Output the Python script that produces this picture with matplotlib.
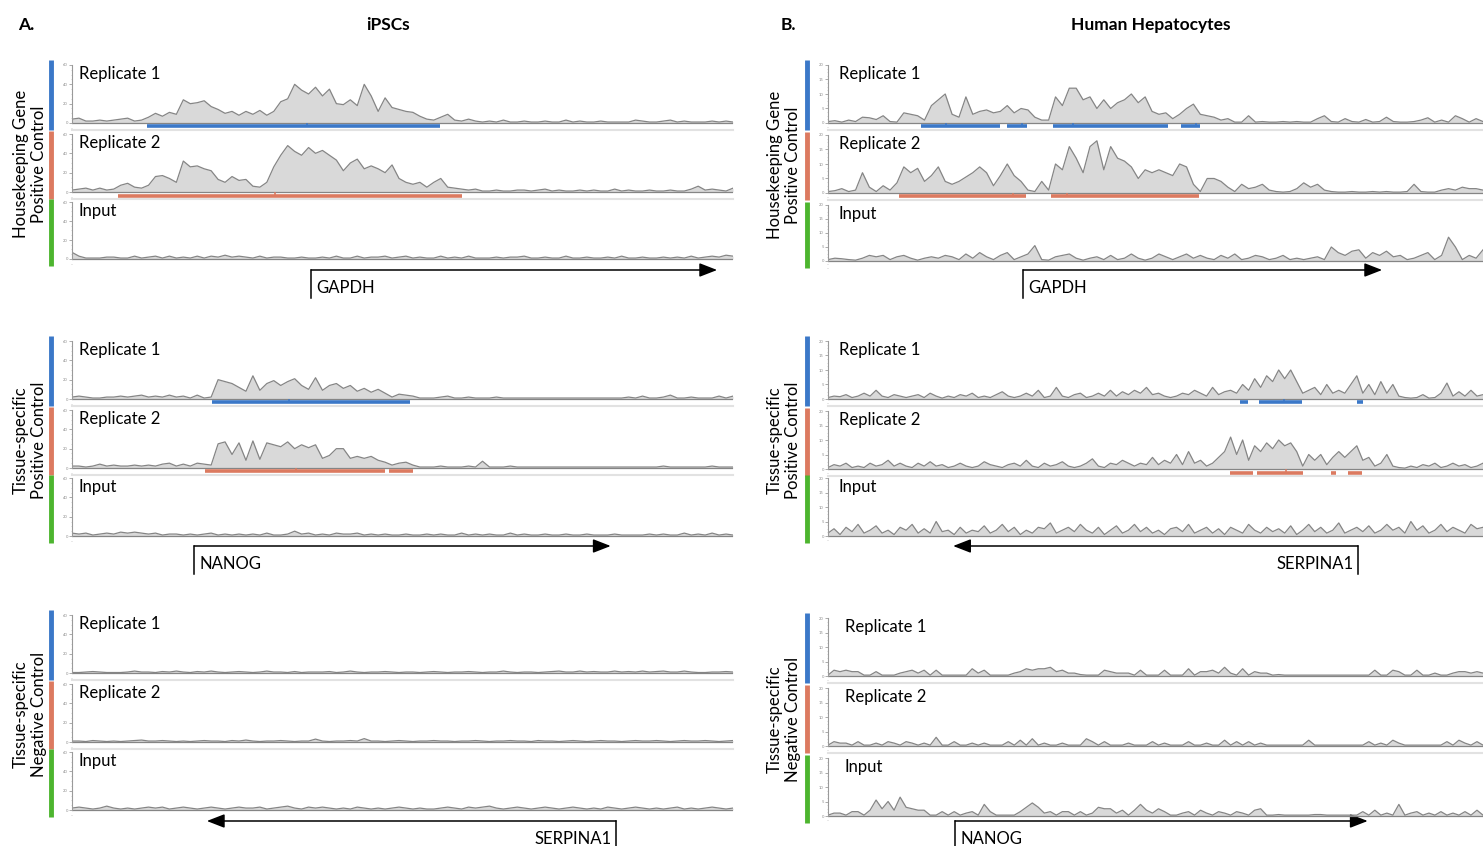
import numpy as np
import matplotlib
matplotlib.use("Agg")
import matplotlib.pyplot as plt
from matplotlib.ticker import AutoMinorLocator

plt.rcParams['font.family'] = ['Lato', 'DejaVu Sans']

W, H = 1483, 846
FILL = "#d9d9d9"
LINE = "#858585"
BLUE = "#3b78c8"
RED = "#dc7a60"
GREEN = "#4db52f"

# ---- signal tracks (coverage values) ----
# iPSCs, GAPDH locus (0-60 scale)
ipsc_gapdh_rep1 = [4, 5, 2, 2, 3, 2, 3, 4, 5, 2, 3, 6, 10, 7, 11, 9, 24, 20, 21, 23,
                   17, 14, 10, 12, 8, 12, 9, 13, 8, 12, 22, 25, 40, 34, 30, 37, 28, 35, 20, 19,
                   24, 18, 40, 28, 12, 26, 16, 14, 12, 11, 7, 4, 3, 6, 9, 3, 2, 4,
                   2, 1, 2, 1, 3, 1, 1, 2, 1, 1, 2, 1, 1, 3, 1, 2, 1, 1, 2, 1,
                   1, 1, 1, 3, 2, 1, 1, 2, 3, 1, 2, 1, 1, 1, 2, 1, 2, 1]
ipsc_gapdh_rep2 = [2, 3, 4, 2, 4, 2, 3, 7, 9, 5, 4, 7, 16, 17, 14, 10, 32, 26, 27, 24,
                   22, 13, 10, 16, 12, 13, 6, 5, 10, 26, 38, 48, 42, 38, 46, 40, 43, 38, 33, 22,
                   30, 34, 24, 27, 24, 20, 28, 14, 10, 8, 10, 5, 10, 14, 5, 4, 3, 2,
                   3, 1, 1, 2, 1, 1, 2, 2, 1, 2, 3, 1, 2, 1, 1, 2, 1, 2, 1, 1,
                   3, 1, 2, 1, 1, 2, 1, 1, 2, 1, 1, 3, 6, 2, 3, 2, 1, 4]
ipsc_gapdh_input = [7, 3, 1, 1, 1, 2, 2, 1, 1, 3, 1, 2, 3, 1, 3, 1, 2, 1, 3, 1,
                    3, 2, 4, 2, 3, 2, 1, 3, 1, 2, 2, 1, 1, 2, 1, 1, 2, 1, 3, 1,
                    1, 3, 1, 2, 2, 3, 1, 2, 3, 1, 2, 1, 1, 3, 1, 2, 1, 3, 1, 1,
                    1, 2, 1, 2, 2, 3, 1, 1, 2, 1, 1, 3, 1, 1, 2, 1, 1, 2, 1, 3,
                    1, 1, 2, 1, 1, 2, 1, 2, 1, 3, 1, 2, 3, 2, 4, 3]

# iPSCs, NANOG locus
ipsc_nanog_rep1 = [2, 3, 2, 1, 1, 2, 2, 3, 2, 3, 4, 2, 3, 2, 4, 2, 3, 1, 4, 1,
                   2, 20, 18, 16, 12, 8, 24, 9, 16, 19, 14, 18, 21, 14, 10, 22, 9, 14, 16, 11,
                   14, 8, 11, 7, 10, 6, 2, 5, 4, 3,
                   1, 1, 1, 2, 3, 1, 1, 2, 1, 1, 1, 2, 1, 1, 1, 1, 1, 1, 1, 1,
                   1, 1, 1, 1, 1, 1, 1, 1, 1, 1, 2, 1, 3, 1, 1, 2, 4, 1, 1, 2,
                   1, 1, 1, 3, 1, 3]
ipsc_nanog_rep2 = [2, 2, 1, 2, 4, 2, 3, 2, 2, 3, 2, 3, 2, 4, 5, 2, 4, 2, 5, 4,
                   3, 25, 27, 14, 26, 8, 28, 9, 26, 24, 22, 27, 20, 24, 21, 24, 10, 13, 20, 20,
                   10, 12, 10, 12, 8, 6, 3, 5, 6, 3,
                   1, 1, 1, 2, 1, 1, 1, 2, 1, 7, 1, 1, 1, 2, 1, 1, 1, 1, 1, 1,
                   1, 1, 1, 1, 1, 1, 1, 1, 1, 1, 1, 1, 1, 1, 1, 2, 1, 1, 1, 1,
                   1, 1, 2, 1, 1, 1]
ipsc_nanog_input = [3, 2, 3, 1, 2, 3, 2, 4, 3, 4, 3, 2, 3, 1, 2, 2, 1, 2, 1, 2,
                    3, 1, 2, 1, 2, 1, 2, 1, 3, 1, 1, 2, 5, 2, 3, 1, 2, 1, 3, 2,
                    2, 3, 1, 2, 1, 2, 1, 1, 2, 1, 1, 2, 1, 2, 1, 1, 3, 1, 2, 1,
                    2, 1, 1, 3, 1, 2, 1, 1, 2, 1, 1, 2, 1, 1, 2, 1, 1, 1, 2, 1,
                    1, 1, 1, 2, 1, 2, 1, 1, 3, 1, 2, 1, 3, 1, 2, 1]

# iPSCs, SERPINA1 locus
ipsc_serp_rep1 = [0.5, 0.5, 1, 1.5, 1, 0.5, 0.5, 0.5, 1, 2, 1, 1, 0.5, 1.5, 1, 2, 1, 0.5, 1.5, 1,
                  2, 1, 0.5, 1, 1.5, 1, 0.5, 1, 2, 1, 1, 0.5, 1.5, 0.5, 1, 1, 1, 1.5, 0.5, 1,
                  2, 1, 0.5, 1, 1, 1.5, 1, 0.5, 1, 1, 0.5, 1, 1.5, 1, 0.5, 1, 1, 1.5, 1, 0.5,
                  1, 1, 2, 1, 0.5, 1, 1, 0.5, 1, 1.5, 2, 1, 1, 2, 1, 1.5, 1, 1, 2, 1,
                  1.5, 1, 2, 1, 1.5, 2, 1, 1, 2, 1, 0.5, 0.5, 1, 1, 1.5, 1]
ipsc_serp_rep2 = [1, 1, 0.5, 1.5, 1, 0.5, 1, 0.5, 1, 1.5, 2, 1, 1, 1.5, 1, 0.5, 1, 0.5, 1, 1.5,
                  1, 1, 0.5, 1.5, 1, 2, 1, 0.5, 1, 1, 1.5, 1, 0.5, 1, 1, 3, 1, 0.5, 1, 1,
                  1.5, 1, 3.5, 1, 1, 0.5, 1, 1.5, 1, 0.5, 1, 1, 1.5, 1, 1, 0.5, 1, 1, 1.5, 1,
                  0.5, 1, 1, 1.5, 1, 1, 0.5, 1.5, 1, 1, 0.5, 1, 1.5, 1, 0.5, 1, 1.5, 1, 1, 0.5,
                  1, 1.5, 1, 1, 1.5, 1, 0.5, 1, 1.5, 1, 1, 1.5, 1, 0.5, 1, 1.5]
ipsc_serp_input = [2, 3, 2, 1, 2, 4, 2, 1, 2, 1, 2, 3, 2, 3, 1, 2, 3, 2, 1, 2,
                   3, 2, 1, 2, 3, 2, 2, 3, 1, 2, 3, 4, 2, 1, 3, 2, 3, 2, 1, 2,
                   1, 3, 2, 1, 2, 1, 2, 3, 2, 1, 2, 1, 1, 2, 3, 2, 1, 3, 2, 3,
                   4, 2, 1, 2, 3, 2, 1, 2, 3, 2, 1, 2, 3, 2, 1, 2, 1, 3, 2, 1,
                   2, 3, 2, 1, 2, 1, 2, 3, 1, 2, 1, 2, 3, 2, 1, 2]

# Hepatocytes, GAPDH locus (0-20 scale)
hep_gapdh_rep1 = [0.5, 0.8, 0.3, 1, 0.5, 2, 1.8, 1.2, 2.5, 0.5, 0.3, 3.5, 3, 2.5, 1, 6, 8, 10, 3, 2,
                  9, 3, 4, 4.5, 3.5, 4, 6, 3.5, 5, 4.5, 2, 1, 1, 9, 6, 12, 12, 8, 9, 5,
                  8, 5, 7, 8, 10, 7, 9, 4, 3, 3.5, 1.5, 3, 5, 6.5, 3, 2.5, 2, 1, 1.5, 0.3,
                  0.3, 2.5, 0.3, 0.5, 0.3, 0.3, 0.5, 0.3, 0.5, 0.3, 0.3, 1.5, 2.5, 0.5, 0.3, 1.5, 0.5, 0.3, 1.2, 0.3,
                  0.5, 2, 0.5, 0.3, 0.3, 0.5, 1, 1.8, 0.3, 1, 0.3, 2.5, 1.5, 0.3, 1.5, 0.5]
hep_gapdh_rep2 = [0.5, 0.8, 1.5, 0.5, 1, 7, 2, 0.5, 2.5, 1, 3.5, 9, 7, 8.5, 4, 6, 9, 4, 3, 4,
                  5.5, 7, 9, 7, 2.5, 6, 10, 6, 4, 1, 0.5, 4, 1, 10, 8, 16, 12, 7, 16, 18,
                  8, 16, 12, 11, 9, 5, 8, 7, 8, 7, 6, 10, 9, 3, 0.5, 5, 5, 4, 2, 0.5,
                  3, 1.5, 2, 3, 1, 0.5, 0.3, 0.5, 1.5, 3.5, 2, 3, 1, 0.5, 0.3, 0.3, 0.5, 0.3, 0.3, 0.5,
                  0.3, 0.5, 0.3, 0.3, 0.5, 3, 0.5, 0.3, 0.3, 1, 1.5, 1, 2, 1.5, 1.5, 1]
hep_gapdh_input = [0.5, 1, 0.8, 0.5, 0.3, 1, 2, 1.5, 2, 0.5, 1.5, 2, 1, 0.3, 1, 1.5, 1, 2, 1.5, 0.5,
                   2.5, 1, 3, 1.5, 0.5, 2, 3, 0.5, 1.5, 2.5, 5.5, 0.5, 0.3, 1.5, 2, 2.5, 1, 0.3, 1, 1.5,
                   0.5, 2, 0.5, 1, 2.5, 1, 0.3, 1, 2.5, 1.5, 0.5, 1.5, 2.5, 1, 2, 1, 0.5, 2, 1, 2.5,
                   0.5, 1, 2, 1.5, 0.5, 1, 2, 0.5, 1, 0.5, 1, 1.5, 0.5, 5, 3, 2, 3.5, 4, 1, 3,
                   2, 3.5, 1.5, 2, 0.5, 1, 2, 3, 0.5, 2, 8.5, 5, 0.5, 2, 1, 4]

# Hepatocytes, SERPINA1 locus
hep_serp_rep1 = [0.5, 1, 0.8, 1.5, 0.5, 1, 2, 1, 3, 1, 0.5, 1.5, 1, 0.5, 1, 1.5, 0.5, 2, 1, 0.3,
                 1, 0.5, 1.5, 1, 2, 0.5, 1, 0.5, 1.5, 2.5, 1, 0.5, 1, 2, 1, 3, 0.5, 1, 4, 1,
                 0.5, 1.5, 2, 0.5, 1, 2, 1, 3, 1, 2.5, 1.5, 3, 2, 4, 1.5, 2, 1, 0.5, 1, 2,
                 1.5, 3, 2, 1, 4, 1.5, 2.5, 3, 2, 5, 3, 7, 4, 8, 6, 10, 7, 10, 6, 2,
                 3, 4, 1.5, 5, 2, 3, 2, 5, 8, 2, 5, 1.5, 6, 2, 5, 1, 0.5, 0.3, 0.5, 1.5,
                 0.3, 0.5, 2, 5.5, 1, 2.5, 1, 3, 1, 1.5]
hep_serp_rep2 = [0.5, 1.5, 1, 2, 0.5, 1, 0.5, 2, 1, 1.5, 3, 1, 2, 1, 0.5, 2, 1, 2.5, 1, 1.5,
                 0.5, 1, 2, 1, 0.5, 1, 2.5, 1.5, 1, 0.5, 1.5, 2, 1, 3, 1, 0.5, 2, 1, 1.5, 2.5,
                 1, 0.5, 1, 2, 3.5, 1, 0.5, 2, 1.5, 3, 2, 1, 2, 1.5, 4, 1.5, 3, 2, 5, 1.5,
                 6, 2, 3, 1, 2, 4, 6, 11, 5, 10, 3, 8, 6, 9, 7, 10, 8, 9, 6, 1,
                 5, 3, 5, 1.5, 4, 6, 4, 6, 8, 3, 4, 1, 2, 5, 1, 0.5, 0.3, 1, 0.5, 1.5,
                 1, 2, 0.5, 1, 2, 1, 1.5, 0.5, 1, 2]
hep_serp_input = [1, 2.5, 0.5, 3, 1.5, 4, 1, 2, 3.5, 1, 2, 0.5, 3, 2, 4, 1, 2.5, 1, 5, 1.5,
                  2, 0.5, 3, 1, 2, 1.5, 3.5, 1, 2, 4, 1.5, 3, 0.5, 2, 1, 3, 2.5, 4.5, 1, 2,
                  3, 1.5, 4, 2, 1, 3, 0.5, 2, 3.5, 1, 2, 4, 1.5, 3, 1, 2, 0.5, 2.5, 3, 1.5,
                  4, 1, 2, 3, 1, 2.5, 0.5, 3, 2, 1, 4, 2, 1, 3, 1.5, 2.5, 1, 3.5, 0.5, 2,
                  4, 1.5, 3, 1, 2, 4.5, 1, 2, 3, 1.5, 3.5, 1, 2, 4, 2, 3, 1, 5, 2, 3.5,
                  1, 2, 4, 1.5, 3, 2, 1, 4, 2.5, 3]

# Hepatocytes, NANOG locus
hep_nanog_rep1 = [0.3, 2, 1.5, 2, 1.5, 1.5, 0.3, 0.3, 1.5, 0.3, 0.3, 0.3, 1, 1.5, 2, 1, 2, 0.3, 2, 0.3,
                  0.3, 0.3, 0.3, 0.3, 2.5, 1, 2, 0.3, 0.3, 0.3, 0.3, 1, 1.5, 2.5, 2, 2.5, 2.5, 3, 1.5, 2,
                  1, 1, 0.5, 0.3, 0.3, 0.3, 2, 1.5, 1, 1, 1, 0.3, 2, 0.3, 0.3, 0.3, 2, 0.3, 0.3, 0.3,
                  2.5, 0.3, 1.5, 1.5, 2, 1, 3, 1, 0.3, 2.5, 0.3, 1.5, 1, 1, 0.3, 0.5, 0.3, 0.3, 0.3, 0.3,
                  0.3, 0.3, 0.3, 0.3, 0.3, 0.3, 0.3, 0.3, 0.3, 0.3, 0.3, 2, 0.3, 0.3, 2, 1.5, 0.3, 0.3, 2, 0.3,
                  0.3, 1, 0.3, 0.3, 1, 1.5, 1.5, 1, 1.5, 1]
hep_nanog_rep2 = [0.3, 1.5, 1, 1, 0.3, 1.5, 0.3, 0.3, 1, 0.3, 1.5, 1, 0.3, 1.5, 1, 0.3, 1, 0.3, 3, 0.3,
                  0.3, 1.5, 0.3, 0.3, 1, 0.3, 1, 0.3, 0.3, 0.3, 1.5, 0.3, 2, 0.3, 2.5, 0.3, 1, 0.3, 0.3, 1,
                  0.3, 0.3, 0.3, 2.5, 1.5, 0.3, 1.5, 0.3, 0.3, 0.3, 1, 0.3, 0.3, 0.3, 1.5, 0.3, 1, 0.3, 0.3, 0.3,
                  1.5, 0.3, 0.3, 1, 0.3, 0.3, 2, 0.3, 1.5, 0.3, 1.5, 0.3, 1, 0.3, 0.3, 0.3, 0.3, 0.3, 0.3, 0.3,
                  2, 0.3, 0.3, 0.3, 0.3, 0.3, 0.3, 0.3, 0.3, 0.3, 1.5, 0.3, 1, 0.3, 2, 1, 0.3, 0.3, 0.3, 0.3,
                  0.3, 0.3, 0.3, 1.5, 0.3, 2, 1, 0.3, 1.5, 0.3]
hep_nanog_input = [0.3, 1, 1, 0.3, 1.5, 1.5, 0.3, 2, 5.5, 2.5, 5, 2, 6.5, 3, 2.5, 2, 2, 0.3, 0.3, 1.5,
                   0.3, 1.5, 0.3, 1, 1.5, 0.3, 4, 1.5, 0.3, 0.3, 0.3, 0.3, 1.5, 3, 4.5, 3, 1, 1.5, 0.3, 1.5,
                   1.5, 0.3, 1.5, 0.3, 1, 3, 2.5, 2.5, 1, 2, 0.3, 2, 4, 2, 1, 2.5, 1.5, 0.3, 0.3, 1,
                   1.5, 0.3, 2, 1, 0.3, 1.5, 1, 0.3, 1.5, 1, 0.3, 2, 2.5, 0.3, 0.3, 0.5, 0.3, 0.3, 0.3, 0.3,
                   0.3, 0.5, 0.5, 0.3, 0.3, 0.3, 0.3, 0.3, 0.3, 1.5, 0.3, 2, 0.3, 1, 0.3, 4, 0.3, 1, 1.5, 0.3,
                   1, 0.3, 1.5, 0.3, 1, 0.3, 1.5, 0.3, 2, 0.3]

# called peaks (fraction of locus window) and summits
ipsc_gapdh_peaks1 = [(0.113, 0.557)]
ipsc_gapdh_summit1 = [0.356]
ipsc_gapdh_peaks2 = [(0.070, 0.590)]
ipsc_gapdh_summit2 = [0.307]
ipsc_nanog_peaks1 = [(0.212, 0.511)]
ipsc_nanog_summit1 = [0.328]
ipsc_nanog_peaks2 = [(0.201, 0.474), (0.480, 0.516)]
ipsc_nanog_summit2 = [0.339]
hep_gapdh_peaks1 = [(0.142, 0.263), (0.273, 0.304), (0.344, 0.519), (0.539, 0.568)]
hep_gapdh_summit1 = [0.180, 0.296, 0.374, 0.562]
hep_gapdh_peaks2 = [(0.108, 0.302), (0.340, 0.566)]
hep_gapdh_summit2 = [0.282, 0.365]
hep_serp_peaks1 = [(0.629, 0.641), (0.658, 0.724), (0.808, 0.817)]
hep_serp_summit1 = [0.696]
hep_serp_peaks2 = [(0.614, 0.649), (0.655, 0.725), (0.768, 0.776), (0.794, 0.815)]
hep_serp_summit2 = [0.699]

# gene models: name, TSS and end (fraction of window)
gene_names = ["GAPDH", "NANOG", "SERPINA1", "GAPDH", "SERPINA1", "NANOG"]
gene_tss = [0.362, 0.185, 0.823, 0.298, 0.809, 0.194]
gene_end = [0.976, 0.815, 0.204, 0.846, 0.191, 0.824]

track_labels = ["Replicate 1", "Replicate 2", "Input"]
row_labels = ["Housekeeping Gene\nPositive Control",
              "Tissue-specific\nPositive Control",
              "Tissue-specific\nNegative Control"]

fig = plt.figure(figsize=(W / 100, H / 100), dpi=100)


def px_axes(x0, y0, x1, y1):
    return fig.add_axes([x0 / W, 1 - y1 / H, (x1 - x0) / W, (y1 - y0) / H])


def draw_track(xr, yr, values, ymax, ticks, label, label_dx, peaks=None, summits=None,
               pcolor=None, sep=True):
    ax = px_axes(xr[0], yr[0], xr[1], yr[1])
    hpx = yr[1] - yr[0]
    unit = ymax / (hpx - 10)
    xs = np.linspace(0, 1, len(values))
    ax.fill_between(xs, 0, values, color=FILL, lw=0)
    ax.plot(xs, values, color=LINE, lw=0.9)
    ax.axhline(0, color=LINE, lw=0.9)
    ax.set_xlim(0, 1)
    ax.set_ylim(-7 * unit, ymax + 3 * unit)
    for s in ["top", "right"]:
        ax.spines[s].set_visible(False)
    ax.spines["left"].set_bounds(0, ymax)
    ax.spines["left"].set_color("#9a9a9a")
    ax.spines["left"].set_linewidth(0.8)
    if sep:
        ax.spines["bottom"].set_color("#e2e2e2")
        ax.spines["bottom"].set_linewidth(1.5)
    else:
        ax.spines["bottom"].set_visible(False)
    ax.set_xticks([])
    ax.set_yticks(ticks)
    ax.set_yticklabels([str(t) for t in ticks])
    ax.yaxis.set_minor_locator(AutoMinorLocator(4))
    ax.tick_params(axis="y", labelsize=3, colors="#8a8a8a", length=2, width=0.5, pad=1)
    ax.tick_params(axis="y", which="minor", colors="#b0b0b0", length=1, width=0.4)
    ax.patch.set_alpha(0)
    if peaks:
        for a, b in peaks:
            ax.plot([a, b], [-3.5 * unit] * 2, color=pcolor, lw=2.6, solid_capstyle="butt")
        for s in summits:
            ax.plot([s, s], [-3.5 * unit, -1 * unit], color=pcolor, lw=1.2)
    ax.text(label_dx / (xr[1] - xr[0]), 1 - 12 / hpx, label, transform=ax.transAxes,
            ha="left", va="center", fontsize=12)
    return ax


left_x = (72, 733)
right_x = (828, 1483)

left_rows = [[(62, 130), (131, 199), (199, 266)],
             [(338, 406), (407, 475), (475, 543)],
             [(612, 680), (681, 749), (749, 817)]]
right_rows = [[(62, 130), (132, 200), (202, 268)],
              [(338, 406), (408, 476), (475, 543)],
              [(615, 683), (685, 753), (755, 823)]]

left_data = [[ipsc_gapdh_rep1, ipsc_gapdh_rep2, ipsc_gapdh_input],
             [ipsc_nanog_rep1, ipsc_nanog_rep2, ipsc_nanog_input],
             [ipsc_serp_rep1, ipsc_serp_rep2, ipsc_serp_input]]
right_data = [[hep_gapdh_rep1, hep_gapdh_rep2, hep_gapdh_input],
              [hep_serp_rep1, hep_serp_rep2, hep_serp_input],
              [hep_nanog_rep1, hep_nanog_rep2, hep_nanog_input]]
left_peaks = [[(ipsc_gapdh_peaks1, ipsc_gapdh_summit1), (ipsc_gapdh_peaks2, ipsc_gapdh_summit2)],
              [(ipsc_nanog_peaks1, ipsc_nanog_summit1), (ipsc_nanog_peaks2, ipsc_nanog_summit2)],
              [(None, None), (None, None)]]
right_peaks = [[(hep_gapdh_peaks1, hep_gapdh_summit1), (hep_gapdh_peaks2, hep_gapdh_summit2)],
               [(hep_serp_peaks1, hep_serp_summit1), (hep_serp_peaks2, hep_serp_summit2)],
               [(None, None), (None, None)]]

colors = [BLUE, RED, GREEN]
peak_cols = [BLUE, RED]

ov = fig.add_axes([0, 0, 1, 1])
ov.set_xlim(0, W)
ov.set_ylim(H, 0)
ov.axis("off")
ov.patch.set_alpha(0)

panels = [(left_x, left_rows, left_data, left_peaks, 60, [0, 20, 40, 60], 7, 51, 30),
          (right_x, right_rows, right_data, right_peaks, 20, [0, 5, 10, 15, 20], 11, 807, 784)]
gene_y = [270, 546, 821]

for p, (xr, rows, data, pks, ymax, ticks, ldx, barx, labx) in enumerate(panels):
    for r in range(3):
        for t in range(3):
            yr = rows[r][t]
            pk, sm = (pks[r][t] if t < 2 else (None, None))
            dx = ldx + (6 if (p == 1 and r == 2) else 0)
            draw_track(xr, yr, data[r][t], ymax, ticks, track_labels[t], dx,
                       pk, sm, peak_cols[t] if t < 2 else None, sep=(t < 2))
            top = yr[0] - (2 if t == 0 else 0)
            ov.plot([barx, barx], [top, yr[1]], color=colors[t], lw=3.5, solid_capstyle="butt")
        cy = (rows[r][0][0] + rows[r][2][1]) / 2
        ov.text(labx, cy, row_labels[r], rotation=90, ha="center", va="center",
                fontsize=12, linespacing=1.15)

        # gene model
        g = p * 3 + r
        w = xr[1] - xr[0]
        sx = xr[0] + gene_tss[g] * w
        ex = xr[0] + gene_end[g] * w
        gy = gene_y[r]
        ov.plot([sx, sx], [gy, gy + 28], color="black", lw=1.1)
        ov.annotate("", xy=(ex, gy), xytext=(sx, gy),
                    arrowprops=dict(arrowstyle="-|>,head_length=0.9,head_width=0.35",
                                    color="black", lw=1.1, shrinkA=0, shrinkB=0,
                                    mutation_scale=12))
        if ex > sx:
            ov.text(sx + 5, gy + 18, gene_names[g], ha="left", va="center", fontsize=12)
        else:
            ov.text(sx - 4, gy + 18, gene_names[g], ha="right", va="center", fontsize=12)

ov.text(18, 25, "A.", ha="left", va="center", fontsize=12.5, fontweight="bold")
ov.text(388, 25, "iPSCs", ha="center", va="center", fontsize=12.5, fontweight="bold")
ov.text(781, 25, "B.", ha="left", va="center", fontsize=12.5, fontweight="bold")
ov.text(1151, 25, "Human Hepatocytes", ha="center", va="center", fontsize=12.5, fontweight="bold")

fig.savefig("out.png", dpi=100)
